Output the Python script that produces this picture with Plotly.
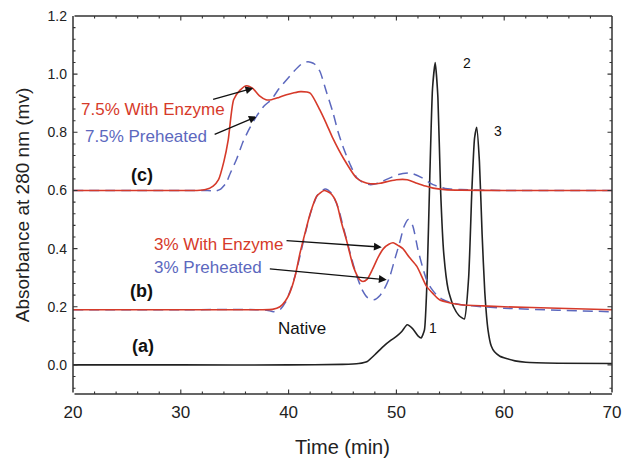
import plotly.graph_objects as go

# ---- data ----
native_t = [20, 30, 40, 45, 46.5, 47.3, 48, 48.8, 49.5, 50.0, 50.5, 51.0, 51.5, 52.0, 52.3, 52.6, 52.85,
            53.1, 53.35, 53.6, 53.85, 54.1, 54.4, 54.8, 55.3, 55.8, 56.3, 56.7, 57.0, 57.25, 57.45, 57.7,
            57.95, 58.2, 58.5, 58.8, 59.1, 59.6, 60.2, 61.0, 62, 65, 70]
native_v = [0, 0, 0, 0.002, 0.005, 0.012, 0.035, 0.064, 0.085, 0.098, 0.115, 0.138, 0.125, 0.1, 0.093, 0.12, 0.3,
            0.65, 0.95, 1.04, 0.92, 0.6, 0.38, 0.26, 0.2, 0.17, 0.158, 0.3, 0.6, 0.78, 0.817, 0.7,
            0.45, 0.25, 0.12, 0.065, 0.045, 0.03, 0.022, 0.014, 0.009, 0.006, 0.005]

enz3_t = [20, 30, 37, 38.5, 39.2, 39.7, 40.1, 40.6, 41.06, 41.5, 42.0, 42.6, 43.3, 43.9, 44.45, 44.9, 45.4,
          46.0, 46.6, 46.9, 47.3, 47.8, 48.3, 48.8, 49.3, 49.7, 50.2, 50.6, 51.2, 51.9, 52.8, 53.4, 54.0,
          55.0, 56, 58, 60, 65, 70]
enz3_v = [0.19, 0.19, 0.19, 0.191, 0.2, 0.22, 0.247, 0.305, 0.385, 0.45, 0.52, 0.58, 0.60, 0.59, 0.557, 0.49, 0.425,
          0.339, 0.293, 0.287, 0.295, 0.33, 0.37, 0.40, 0.415, 0.42, 0.41, 0.40, 0.37, 0.339, 0.27, 0.245, 0.224,
          0.213, 0.207, 0.203, 0.2, 0.195, 0.19]

pre3_t = [20, 30, 37, 38.0, 38.6, 39.2, 39.7, 40.2, 40.7, 41.15, 41.6, 42.1, 42.7, 43.4, 44.0, 44.6, 45.1, 45.6,
          46.2, 46.8, 47.3, 47.9, 48.5, 49.0, 49.4, 49.9, 50.3, 50.7, 51.1, 51.5, 52.0, 52.4, 52.8, 53.2, 53.7,
          54.3, 55.0, 56, 58, 60, 65, 70]
pre3_v = [0.19, 0.19, 0.19, 0.188, 0.183, 0.19, 0.215, 0.26, 0.32, 0.39, 0.46, 0.53, 0.585, 0.605, 0.59, 0.54, 0.47, 0.4,
          0.32, 0.26, 0.232, 0.224, 0.24, 0.27, 0.305, 0.37, 0.42, 0.475, 0.50, 0.48, 0.396, 0.34, 0.293, 0.265, 0.242,
          0.225, 0.215, 0.207, 0.2, 0.195, 0.188, 0.183]

enz75_t = [20, 30, 31.5, 32.3, 33.0, 33.5, 34.0, 34.4, 34.9, 35.5, 36.1, 36.7, 37.3, 37.9, 38.4, 39.1, 39.8, 40.5,
           41.1, 42.0, 42.9, 43.5, 44.1, 45.1, 46.3, 47.0, 47.6, 48.5, 49.3, 50.0, 51.0, 51.9, 52.7, 53.4, 54.5,
           56, 60, 65, 70]
enz75_v = [0.6, 0.6, 0.6, 0.603, 0.615, 0.637, 0.7, 0.774, 0.912, 0.945, 0.96, 0.95, 0.925, 0.912, 0.912, 0.92, 0.929, 0.936,
           0.94, 0.935, 0.877, 0.83, 0.78, 0.71, 0.643, 0.628, 0.623, 0.625, 0.632, 0.637, 0.637, 0.625, 0.615, 0.608, 0.603,
           0.601, 0.6, 0.6, 0.6]

pre75_t = [20, 30, 32.5, 33.2, 33.7, 34.2, 34.6, 35.2, 35.8, 36.4, 37.0, 37.7, 38.4, 39.1, 39.8, 40.5, 41.2, 41.8,
           42.4, 42.9, 43.5, 44.1, 44.6, 45.1, 45.7, 46.3, 47.0, 47.6, 48.3, 49.2, 50.2, 51.3, 52.3, 53.4, 54.5,
           56, 60, 65, 70]
pre75_v = [0.6, 0.6, 0.6, 0.598, 0.605, 0.625, 0.66, 0.71, 0.77, 0.815, 0.854, 0.89, 0.912, 0.95, 0.98, 1.01, 1.035, 1.043,
           1.035, 1.01, 0.94, 0.87, 0.8, 0.745, 0.69, 0.645, 0.625, 0.62, 0.625, 0.64, 0.655, 0.66, 0.645, 0.62, 0.607,
           0.603, 0.6, 0.6, 0.6]

x_ticks = [20, 30, 40, 50, 60, 70]
y_ticks = [0.0, 0.2, 0.4, 0.6, 0.8, 1.0, 1.2]
x_minor_step = 2
y_minor_step = 0.04

RED = "rgb(214,58,42)"
BLUE = "rgb(92,104,190)"
FONT = "Liberation Sans, Arial, sans-serif"
AXC = "#333333"

X_RANGE = [20, 70]
Y_RANGE = [-0.1, 1.2]

fig = go.Figure()
fig.add_trace(go.Scatter(x=native_t, y=native_v, mode="lines", line=dict(color="#222222", width=1.6, shape="spline", smoothing=0.5)))
fig.add_trace(go.Scatter(x=pre3_t, y=pre3_v, mode="lines", line=dict(color=BLUE, width=1.5, dash="10px,6px", shape="spline", smoothing=0.6)))
fig.add_trace(go.Scatter(x=enz3_t, y=enz3_v, mode="lines", line=dict(color=RED, width=1.6, shape="spline", smoothing=0.6)))
fig.add_trace(go.Scatter(x=pre75_t, y=pre75_v, mode="lines", line=dict(color=BLUE, width=1.5, dash="10px,6px", shape="spline", smoothing=0.6)))
fig.add_trace(go.Scatter(x=enz75_t, y=enz75_v, mode="lines", line=dict(color=RED, width=1.6, shape="spline", smoothing=0.6)))

ann = []

# ---- frame (domain-referenced lines) ----
def frame_line(xa, ya, xb, yb):
    ann.append(dict(x=xb, y=yb, ax=xa, ay=ya, xref="x domain", yref="y domain", axref="x domain", ayref="y domain",
                    text="", showarrow=True, arrowhead=0, arrowwidth=1.5, arrowcolor=AXC, standoff=0, startstandoff=0))

frame_line(0, 0, 1, 0)
frame_line(0, 1, 1, 1)
frame_line(0, 0, 0, 1)
frame_line(1, 0, 1, 1)

# ---- inside ticks, derived from the tick arrays ----
x0, x1 = X_RANGE
y0, y1 = Y_RANGE

def xtick(xv, side, length):
    ann.append(dict(x=xv, y=side, xref="x", yref="y domain", ax=0, ay=(-length if side == 0 else length),
                    text="", showarrow=True, arrowhead=0, arrowwidth=1.1, arrowcolor=AXC, standoff=0, startstandoff=0))

def ytick(yv, side, length):
    ann.append(dict(x=side, y=yv, xref="x domain", yref="y", ax=(length if side == 0 else -length), ay=0,
                    text="", showarrow=True, arrowhead=0, arrowwidth=1.1, arrowcolor=AXC, standoff=0, startstandoff=0))

n_xminor = int(round((x1 - x0) / x_minor_step))
for i in range(1, n_xminor):
    xv = x0 + i * x_minor_step
    major = any(abs(xv - t) < 1e-9 for t in x_ticks)
    L = 6 if major else 4
    xtick(xv, 0, L)
    xtick(xv, 1, L)

start = y_ticks[0] - y_minor_step * int((y_ticks[0] - y0) / y_minor_step)
n_yminor = int(round((y1 - start) / y_minor_step))
for i in range(n_yminor + 1):
    yv = round(start + i * y_minor_step, 6)
    if yv <= y0 + 1e-9 or yv >= y1 - 1e-9:
        continue
    major = any(abs(yv - t) < 1e-9 for t in y_ticks)
    L = 6 if major else 4
    ytick(yv, 0, L)
    ytick(yv, 1, L)

# ---- labels and arrows ----
def txt(x, y, s, color="#111111", size=17, xanchor="center", bold=False):
    ann.append(dict(x=x, y=y, xref="x", yref="y", text=("<b>%s</b>" % s) if bold else s, showarrow=False,
                    xanchor=xanchor, yanchor="middle", font=dict(family=FONT, size=size, color=color)))

def arrow(xa, ya, xb, yb):
    ann.append(dict(x=xb, y=yb, ax=xa, ay=ya, xref="x", yref="y", axref="x", ayref="y", text="",
                    showarrow=True, arrowhead=2, arrowsize=1.2, arrowwidth=1.3, arrowcolor="#111111", standoff=0))

txt(20.6, 0.877, "7.5% With Enzyme", RED, xanchor="left")
txt(20.9, 0.786, "7.5% Preheated", BLUE, xanchor="left")
txt(26.37, 0.654, "(c)", bold=True, size=18)
txt(27.3, 0.413, "3% With Enzyme", RED, xanchor="left")
txt(27.3, 0.335, "3% Preheated", BLUE, xanchor="left")
txt(26.37, 0.253, "(b)", bold=True, size=18)
txt(26.5, 0.064, "(a)", bold=True, size=18)
txt(41.24, 0.127, "Native", size=17)
txt(53.35, 0.127, "1", size=14)
txt(56.52, 1.038, "2", size=14)
txt(59.45, 0.803, "3", size=14)

arrow(32.86, 0.912, 36.73, 0.952)
arrow(33.0, 0.791, 37.04, 0.854)
arrow(39.67, 0.428, 48.64, 0.405)
arrow(38.12, 0.331, 49.1, 0.293)

axis_common = dict(showline=False, ticks="", showgrid=False, zeroline=False, automargin=False)

fig.update_layout(
    width=623, height=458,
    margin=dict(l=73, r=11, t=16, b=64),
    paper_bgcolor="white", plot_bgcolor="white",
    showlegend=False,
    annotations=ann,
    xaxis=dict(range=X_RANGE, tickmode="array", tickvals=x_ticks, ticktext=[str(v) for v in x_ticks],
               tickfont=dict(family=FONT, size=17, color="#222222"), ticklabelstandoff=6,
               title=dict(text="Time (min)", font=dict(family=FONT, size=20, color="#222222"), standoff=18),
               **axis_common),
    yaxis=dict(range=Y_RANGE, tickmode="array", tickvals=y_ticks, ticktext=["%.1f" % v for v in y_ticks],
               tickfont=dict(family=FONT, size=14, color="#222222"), ticklabelstandoff=5,
               title=dict(text="Absorbance at 280 nm (mv)", font=dict(family=FONT, size=19, color="#222222"), standoff=12),
               **axis_common),
)

fig.write_html("out.html", post_script="document.body.style.margin='0px';", config={"displayModeBar": False})
